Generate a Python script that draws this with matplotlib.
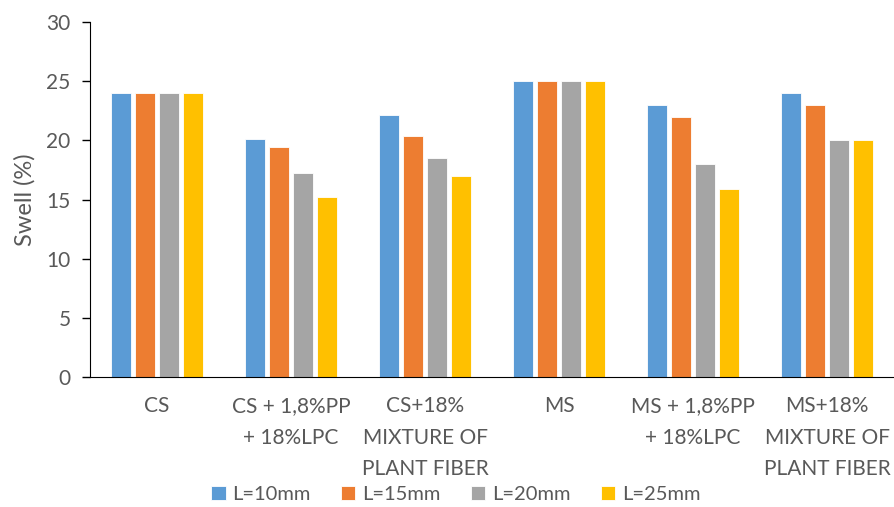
import numpy as np
import matplotlib.pyplot as plt

plt.rcParams['font.family'] = ['Lato', 'DejaVu Sans']

# swell values per mix, one list per fibre length
categories = ['CS', 'CS + 1,8%PP\n+ 18%LPC', 'CS+18%\nMIXTURE OF\nPLANT FIBER',
              'MS', 'MS + 1,8%PP\n+ 18%LPC', 'MS+18%\nMIXTURE OF\nPLANT FIBER']
l10 = [24, 20.1, 22.1, 25, 23, 24]
l15 = [24, 19.4, 20.4, 25, 22, 23]
l20 = [24, 17.2, 18.5, 25, 18, 20]
l25 = [24, 15.2, 17.0, 25, 15.9, 20]
series = [l10, l15, l20, l25]
labels = ['L=10mm', 'L=15mm', 'L=20mm', 'L=25mm']
colors = ['#5B9BD5', '#ED7D31', '#A5A5A5', '#FFC000']

txt = '#595959'
fs = 15

fig = plt.figure(figsize=(8.94, 5.07), dpi=100)
ax = fig.add_axes([0.1007, 0.2564, 0.8993, 0.7002])

x = np.arange(len(categories))
w = 0.149
step = 0.179
for i, (vals, lab, c) in enumerate(zip(series, labels, colors)):
    ax.bar(x + (i - 1.5) * step, vals, w, color=c, label=lab,
           edgecolor='white', linewidth=0.6)

ax.set_xlim(-0.5, 5.5)
ax.set_ylim(0, 30)
ax.set_yticks(range(0, 31, 5))
ax.set_xticks(x)
ax.set_xticklabels(categories, linespacing=1.7)
ax.tick_params(axis='x', length=0, pad=14, labelsize=fs, labelcolor=txt)
ax.tick_params(axis='y', length=6, width=1, direction='out', pad=8,
               labelsize=fs, labelcolor=txt)
for s in ['top', 'right']:
    ax.spines[s].set_visible(False)
ax.spines['left'].set_color('black')
ax.spines['bottom'].set_color('black')
ax.set_ylabel('Swell (%)', fontsize=17, color=txt, labelpad=8)

fig.legend(loc='center', bbox_to_anchor=(0.51, 0.024), ncol=4, frameon=False,
           handlelength=0.7, handleheight=0.7, handletextpad=0.35,
           columnspacing=1.5, fontsize=14.5, labelcolor=txt, borderaxespad=0)

fig.savefig('out.png', dpi=100)
